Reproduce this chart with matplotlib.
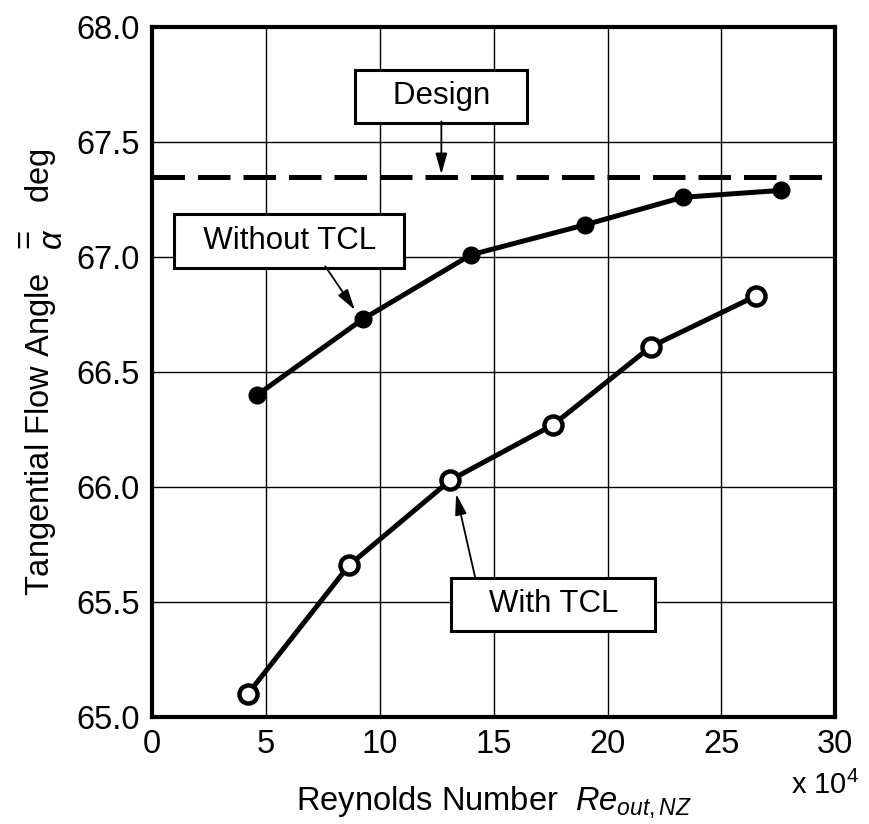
import numpy as np
import matplotlib
matplotlib.use('Agg')
import matplotlib.pyplot as plt

plt.rcParams['font.family'] = ['Liberation Sans', 'DejaVu Sans']
plt.rcParams['mathtext.fontset'] = 'custom'
plt.rcParams['mathtext.rm'] = 'Liberation Sans'
plt.rcParams['mathtext.it'] = 'Liberation Sans:italic'

# datos
re_sin = [4.6, 9.25, 14.0, 19.0, 23.3, 27.6]
ang_sin = [66.40, 66.73, 67.01, 67.14, 67.26, 67.29]
re_con = [4.2, 8.65, 13.1, 17.6, 21.9, 26.5]
ang_con = [65.10, 65.66, 66.03, 66.27, 66.61, 66.83]
diseno = 67.35

fig = plt.figure(figsize=(8.7, 8.24), dpi=100)
ax = fig.add_axes([0.175, 0.130, 0.785, 0.837])

ax.plot([0, 29.9], [diseno, diseno], color='black', lw=3.6, dashes=(6.5, 2.6))
ax.plot(re_sin, ang_sin, '-o', color='black', lw=3.6, ms=12)
ax.plot(re_con, ang_con, '-o', color='black', lw=3.6, ms=13,
        mfc='white', mec='black', mew=3.2)

ax.set_xlim(0, 30)
ax.set_ylim(65, 68)
ax.set_xticks(np.arange(0, 31, 5))
ax.set_yticks(np.arange(65, 68.01, 0.5))
ax.set_yticklabels(['%.1f' % v for v in np.arange(65, 68.01, 0.5)])
ax.grid(True, color='black', lw=1.0)
ax.tick_params(length=0, labelsize=23.5, pad=9)
for s in ax.spines.values():
    s.set_linewidth(3)

caja = dict(boxstyle='square,pad=0.37', fc='white', ec='black', lw=2.2)
flecha = dict(arrowstyle='-|>,head_length=0.9,head_width=0.25', color='black', lw=1.3,
              mutation_scale=14, shrinkA=0, shrinkB=0)
ax.text(12.7, 67.70, '   Design   ', fontsize=22.5, ha='center', va='center', bbox=caja)
ax.annotate('', xy=(12.7, 67.36), xytext=(12.7, 67.59), arrowprops=flecha)
ax.text(6.0, 67.07, '  Without TCL  ', fontsize=22.5, ha='center', va='center', bbox=caja)
ax.annotate('', xy=(8.9, 66.77), xytext=(7.6, 66.96), arrowprops=flecha)
ax.text(17.6, 65.49, '   With TCL   ', fontsize=22.5, ha='center', va='center', bbox=caja)
ax.annotate('', xy=(13.35, 65.97), xytext=(14.2, 65.60), arrowprops=flecha)

ax.set_xlabel(r'Reynolds Number  $Re_{out,NZ}$', fontsize=23.5, labelpad=17)
ax.set_ylabel(r'Tangential Flow Angle  $\genfrac{}{}{0}{0}{=}{\alpha}$  deg', fontsize=23.5, labelpad=8)
ax.text(0.985, -0.1, r'x 10$^4$', transform=ax.transAxes, fontsize=21, ha='center', va='center')

plt.savefig('out.png', dpi=100)
